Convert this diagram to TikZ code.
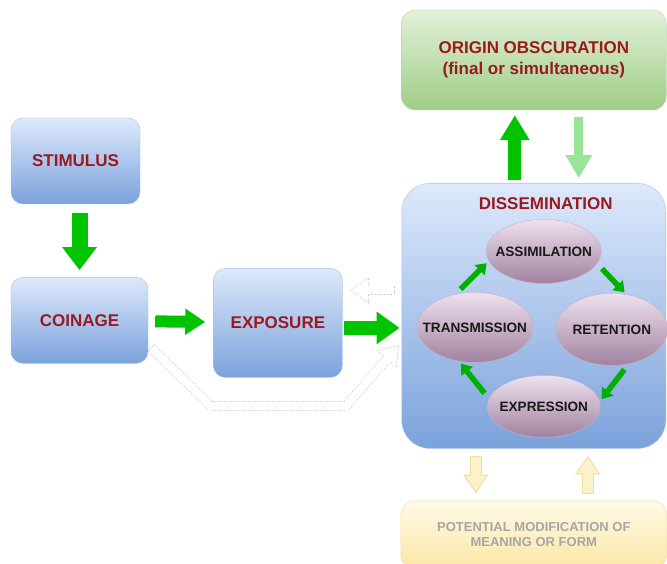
\documentclass[tikz,border=0pt]{standalone}
\usepackage{fontspec}
\setmainfont{Liberation Sans}
\usetikzlibrary{arrows.meta,calc,positioning,shapes.geometric}
\definecolor{boxtop}{HTML}{DDE9FB}
\definecolor{boxbot}{HTML}{7BA2DC}
\definecolor{boxedge}{HTML}{A9C0E4}
\definecolor{greentop}{HTML}{E3F1DA}
\definecolor{greenbot}{HTML}{9ECD85}
\definecolor{greenedge}{HTML}{B2D89C}
\definecolor{yellowtop}{HTML}{FFFAE8}
\definecolor{yellowbot}{HTML}{FBE6A4}
\definecolor{yellowedge}{HTML}{F1DCA0}
\definecolor{yellowfill}{HTML}{FCF1C8}
\definecolor{stagetop}{HTML}{EEE1EF}
\definecolor{stagebot}{HTML}{A1829F}
\definecolor{stageedge}{HTML}{C8B2C6}
\definecolor{labelred}{HTML}{9A1A20}
\definecolor{arrowgreen}{HTML}{00C400}
\definecolor{palegreen}{HTML}{98E498}
\definecolor{fbgray}{HTML}{BDBDBD}
\tikzset{
    %Define style for boxes
    flowbox/.style={
           rectangle,
           rounded corners=12pt,
           draw=boxedge, thin,
           top color=boxtop, bottom color=boxbot,
           text=labelred,
           font=\fontsize{17}{20}\selectfont\bfseries,
           text centered},
    dissbox/.style={
           rectangle,
           rounded corners=28pt,
           draw=boxedge, thin,
           top color=boxtop, bottom color=boxbot,
           minimum width=264pt,
           minimum height=265pt},
    obscbox/.style={
           rectangle,
           rounded corners=14pt,
           draw=greenedge, thin,
           top color=greentop, bottom color=greenbot,
           minimum width=265pt,
           minimum height=100pt,
           text=labelred,
           font=\fontsize{17}{21}\selectfont\bfseries,
           align=center},
    modbox/.style={
           rectangle,
           rounded corners=14pt,
           draw=yellowedge, thin,
           top color=yellowtop, bottom color=yellowbot,
           minimum width=266pt,
           minimum height=68pt,
           text=black!35,
           font=\fontsize{13}{15}\selectfont\bfseries,
           align=center},
    disstitle/.style={
           text=labelred,
           font=\fontsize{17}{20}\selectfont\bfseries},
    stage/.style={
           ellipse,
           inner sep=0pt,
           draw=stageedge, thin,
           top color=stagetop, bottom color=stagebot,
           text=black!90,
           font=\fontsize{13.6}{16}\selectfont\bfseries},
    % Define arrow styles
    bigarrow/.style={
           draw=arrowgreen,
           line width=#1},
    cyclearrow/.style={
           draw=arrowgreen!90!black,
           line width=5.5pt,
           -{Triangle[width=14pt,length=10pt]},
           shorten <=7pt,
           shorten >=3pt},
    yarrowout/.style={
           draw=yellowedge,
           line width=12pt,
           -{Triangle[width=24pt,length=19pt]},
           shorten <=7pt,
           shorten >=7pt},
    yarrowin/.style={
           draw=yellowfill,
           line width=10pt,
           -{Triangle[width=20.5pt,length=16pt]},
           shorten <=8pt,
           shorten >=8.9pt},
    fbouter/.style={
           line width=9.6pt,
           dash pattern=on 0.8pt off 1.6pt,
           draw=fbgray},
    fbinner/.style={
           line width=8pt,
           draw=white},
    fbhead/.style={
           line width=0.8pt,
           dash pattern=on 0.8pt off 1.6pt,
           draw=fbgray}
}

\begin{document}
\begin{tikzpicture}[x=1pt,y=1pt]
\useasboundingbox (0,0) rectangle (667,563);
 %nodes
\node[flowbox, minimum width=129pt, minimum height=86pt] (1) at (75.5,402) {STIMULUS};
\node[flowbox, minimum width=137pt, minimum height=86pt, below=73pt of 1, xshift=4pt] (2) {COINAGE};
\node[flowbox, minimum width=129pt, minimum height=109pt, right=65pt of 2, yshift=-2.5pt] (3) {EXPOSURE};
\node[dissbox, right=59pt of 3, yshift=7pt] (4) {};
\node[obscbox, above=73pt of 4] (5) {ORIGIN OBSCURATION\\(final or simultaneous)};
\node[modbox, below=52pt of 4] (6) {POTENTIAL MODIFICATION OF\\MEANING OR FORM};
\node[disstitle] (7) at ([shift={(12,-20)}]4.north) {DISSEMINATION};
\node[stage, minimum width=115pt, minimum height=64pt] (8) at ([shift={(10,64.5)}]4.center) {\makebox[0pt]{ASSIMILATION}};
\node[stage, minimum width=116pt, minimum height=70pt] (9) at ([shift={(-59,-11.5)}]4.center) {\makebox[0pt]{TRANSMISSION}};
\node[stage, minimum width=112pt, minimum height=72pt] (10) at ([shift={(78,-13.5)}]4.center) {\makebox[0pt]{RETENTION}};
\node[stage, minimum width=113pt, minimum height=62pt] (11) at ([shift={(10,-90.5)}]4.center) {\makebox[0pt]{EXPRESSION}};

 %main flow
\draw[bigarrow=16pt, -{Triangle[width=33pt,length=23pt]}, shorten <=9pt, shorten >=7pt] (2.north |- 1.south) -- (2.north);
\draw[bigarrow=12pt, -{Triangle[width=25pt,length=20pt]}, shorten <=7pt, shorten >=8pt] (2) -- (3);
\draw[bigarrow=14pt, -{Triangle[width=31pt,length=23pt]}, shorten <=1pt, shorten >=2pt] ([yshift=-5pt]3.east) -- ([yshift=-5pt]3.east -| 4.west);
\draw[bigarrow=13pt, -{Triangle[width=28pt,length=25pt]}, shorten <=3pt, shorten >=5pt] ([xshift=-19pt]4.north) -- ([xshift=-19pt]5.south);
\draw[bigarrow=9pt, draw=palegreen, -{Triangle[width=25pt,length=23pt]}, shorten <=7pt, shorten >=5pt] ([xshift=45pt]5.south) -- ([xshift=45pt]4.north);

 %cycle
\draw[cyclearrow] (9.120) -- (8.190);
\draw[cyclearrow] (8.-13) -- (10.67);
\draw[cyclearrow] (10.-64) -- (11.5);
\draw[cyclearrow] (11.172) -- (9.245);

 %modification
\draw[yarrowout] ([xshift=-58pt]4.south) -- ([xshift=-58pt]6.north);
\draw[yarrowin] ([xshift=-58pt]4.south) -- ([xshift=-58pt]6.north);
\draw[yarrowout] ([xshift=54pt]6.north) -- ([xshift=54pt]4.south);
\draw[yarrowin] ([xshift=54pt]6.north) -- ([xshift=54pt]4.south);

 %feedback, dotted
\coordinate (a1) at ([shift={(-7,25.5)}]4.west);
\coordinate (a2) at ([shift={(-51,25.5)}]4.west);
\coordinate (a3) at ($(a2)!18pt!(a1)$);
\draw[fbouter] (a1) -- (a3);
\draw[fbinner] (a1) -- (a3);
\draw[fbhead] ($(a1)!4.8pt!90:(a3)$) -- ($(a1)!4.8pt!-90:(a3)$);
\draw[fbhead] ($(a3)!4.8pt!90:(a2)$) -- ($(a3)!12.5pt!90:(a2)$) -- (a2) -- ($(a3)!12.5pt!-90:(a2)$) -- ($(a3)!4.8pt!-90:(a2)$);

\coordinate (b0) at ([xshift=3pt]2.-22);
\coordinate (b1) at (211,157);
\coordinate (b2) at (346,157);
\coordinate (b4) at ([shift={(-3,-29.5)}]4.west);
\coordinate (b3) at ($(b4)!18pt!(b2)$);
\draw[fbouter] (b0) -- (b1) -- (b2) -- (b3);
\draw[fbinner] (b0) -- (b1) -- (b2) -- (b3);
\draw[fbhead] ($(b0)!4.8pt!90:(b1)$) -- ($(b0)!4.8pt!-90:(b1)$);
\draw[fbhead] ($(b3)!4.8pt!90:(b4)$) -- ($(b3)!12.5pt!90:(b4)$) -- (b4) -- ($(b3)!12.5pt!-90:(b4)$) -- ($(b3)!4.8pt!-90:(b4)$);
\end{tikzpicture}
\end{document}
